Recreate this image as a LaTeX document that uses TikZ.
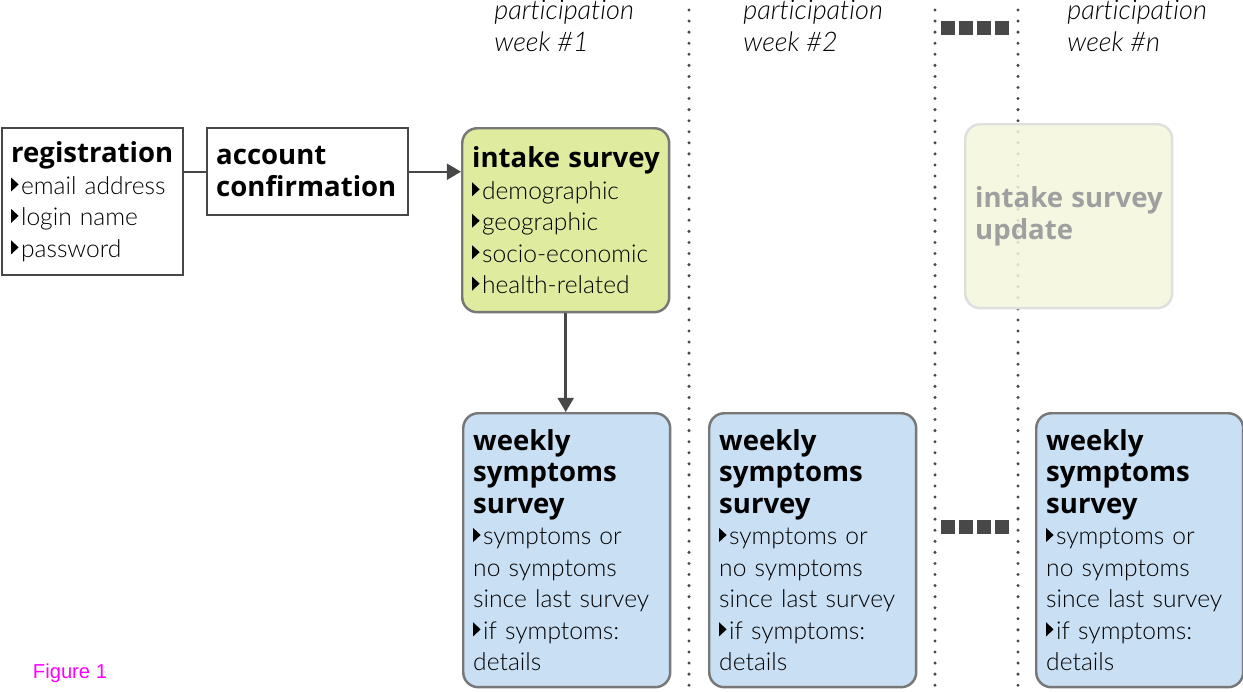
\documentclass[tikz,border=0pt]{standalone}
\usepackage{fontspec}
\setmainfont{Lato}[UprightFont=* Light, ItalicFont=* Light Italic, BoldFont=* Black, Ligatures=NoCommon]
\newfontfamily\heavyfont{Open Sans}[Scale=1.12, Ligatures=NoCommon]
\newfontfamily\figfont{Liberation Sans}
\usetikzlibrary{arrows.meta}

\definecolor{intakegreen}{HTML}{DFEB9E}
\definecolor{weekblue}{HTML}{C9DFF3}
\definecolor{updatefill}{HTML}{F3F6DC}
\definecolor{framegray}{HTML}{777777}
\definecolor{darkline}{HTML}{474747}
\definecolor{dotgray}{HTML}{484848}
\definecolor{figmagenta}{HTML}{FF00FF}

% small black bullet triangle and heavy titles
\newcommand{\bul}{\tikz[baseline=0pt, sharp corners]\fill[black] (0,0.12em) -- (0,0.68em) -- (0.3em,0.4em) -- cycle;\hspace{0.1em}}
\newcommand{\hd}[1]{\mbox{\heavyfont\bfseries #1}}

\begin{document}
\begin{tikzpicture}[x=0.02cm, y=-0.02cm,
    txt/.style={font=\fontsize{14pt}{17.9pt}\selectfont, align=left, anchor=north west},
    sqbox/.style={txt, draw=darkline, line width=1.4pt, inner xsep=0.18cm, inner ysep=0pt},
    survbox/.style={txt, draw=framegray, line width=1.4pt, rounded corners=0.3cm,
        inner xsep=0.2cm, inner ysep=0pt, text width=3.74cm, minimum width=4.14cm},
    intakebox/.style={survbox, fill=intakegreen, minimum height=3.68cm},
    weekbox/.style={survbox, fill=weekblue, minimum height=5.48cm},
    updatebox/.style={survbox, draw=gray!25, fill=updatefill, fill opacity=0.85,
        text opacity=1, text=gray!75, minimum height=3.68cm},
    head/.style={font=\fontsize{15.4pt}{17.9pt}\selectfont\itshape, align=left,
        anchor=north west, inner sep=0pt},
    link/.style={draw=darkline, line width=1.4pt},
    sepline/.style={dotgray, line width=1.9pt, line cap=round, dash pattern=on 0pt off 6.3pt},
    gapsq/.style={fill=dotgray}]
\useasboundingbox (0,0) rectangle (1243,691);

% week columns
\foreach \x in {689,935,1018}
    \draw[sepline] (\x,10) -- (\x,686);
\foreach \y in {28,527}
    \foreach \i in {0,...,3}
        \fill[gapsq] ({941+\i*18},{\y-7}) rectangle +(14,14);

\node[head] (head1) at (494,0) {participation\\week \#1};
\node[head] (head2) at (743,0) {participation\\week \#2};
\node[head] (headn) at (1067,0) {participation\\week \#n};

% sign up
\node[sqbox, text width=3.26cm, minimum height=2.94cm] (reg) at (1,127)
    {\hd{registration}\\ \bul email address\\ \bul login name\\ \bul password};
\node[sqbox, text width=3.66cm, minimum height=1.74cm] (acc) at (206,127)
    {\hd{account}\\ \hd{confirmation}};

% surveys
\node[intakebox] (intake) at (461,127)
    {\hd{intake survey}\\ \bul demographic\\ \bul geographic\\ \bul socio-economic\\ \bul health-related};
\foreach \x/\n in {462/1,708/2,1035/3}
    \node[weekbox] (week\n) at (\x,412)
        {\hd{weekly}\\ \hd{symptoms}\\ \hd{survey}\\ \bul symptoms or\\ no symptoms\\ since last survey\\ \bul if symptoms:\\ details};
\node[updatebox] (update) at (964,123) {\hd{intake survey}\\ \hd{update}};

% connectors
\draw[link] (acc.west -| reg.east) -- (acc.west);
\draw[link, -{Triangle[length=8pt, width=9pt]}] (acc.east) -- (acc.east -| intake.west);
\draw[link, -{Triangle[length=8pt, width=9pt]}] (intake.south) -- (intake.south |- week1.north);

\node[font=\figfont\fontsize{11.5pt}{13pt}\selectfont, text=figmagenta] (fig) at (70,673) {Figure 1};
\end{tikzpicture}
\end{document}
